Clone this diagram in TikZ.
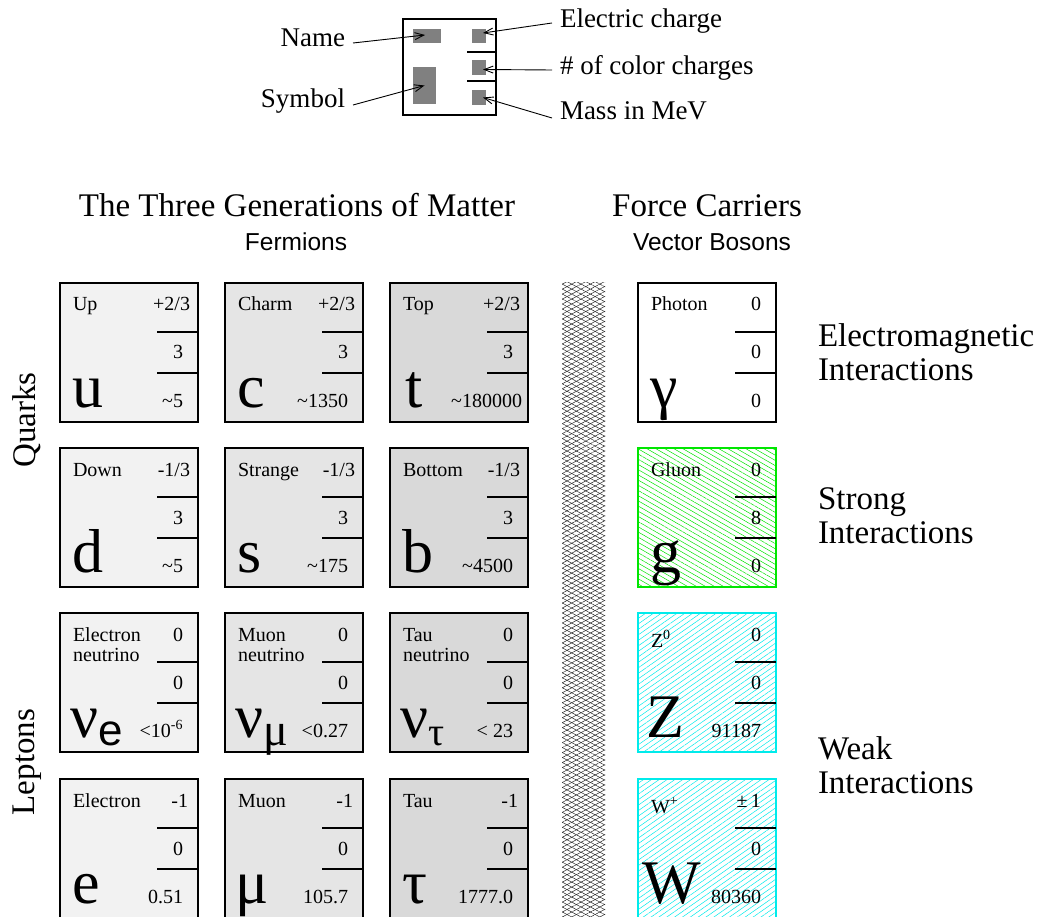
\documentclass[tikz,border=0pt]{standalone}
\usepackage{fontspec}
\setmainfont{Liberation Serif}
\setsansfont{Liberation Sans}
\usetikzlibrary{patterns.meta,arrows.meta}

\definecolor{cA}{gray}{0.95}
\definecolor{cB}{gray}{0.90}
\definecolor{cC}{gray}{0.85}
\definecolor{glu}{RGB}{0,230,0}
\definecolor{wk}{RGB}{0,235,235}
\definecolor{legray}{gray}{0.5}

\tikzset{
  sep/.style={inner sep=0pt, outer sep=0pt},
  cardbox/.style={sep, draw=black, line width=2.6pt, minimum width=138pt, minimum height=139pt, anchor=north west},
  fillA/.style={cardbox, fill=cA},
  fillB/.style={cardbox, fill=cB},
  fillC/.style={cardbox, fill=cC},
  photonbox/.style={cardbox, fill=white},
  gluonbox/.style={cardbox, draw=glu, fill=white, postaction={pattern={Lines[angle=-30,distance=4.5pt,line width=0.5pt]}, pattern color=glu}},
  weakbox/.style={cardbox, draw=wk, fill=white, postaction={pattern={Lines[angle=35,distance=4.5pt,line width=0.5pt]}, pattern color=wk}},
  small/.style={sep, font=\fontsize{20}{20}\selectfont},
  big/.style={sep, font=\fontsize{62}{62}\selectfont},
  title/.style={sep, font=\fontsize{33}{34}\selectfont},
  subtitle/.style={sep, font=\sffamily\fontsize{24.5}{26}\selectfont},
  legend/.style={sep, font=\fontsize{27}{28}\selectfont},
  divline/.style={line width=2.6pt},
  arr/.style={-{Straight Barb[length=9pt,width=7pt]}, line width=0.9pt},
  graybox/.style={sep, fill=legray, draw=none, anchor=north west},
  meshline/.style={pattern color=black!85},
}

\newcommand\partsub[2]{\raisebox{-8pt}{#1#2}}

\newcommand\card[9]{%
  \node[#4] (#1) at (#2,#3) {};
  \draw[divline] ([xshift=97pt,yshift=-49pt]#1.north west) -- ([yshift=-49pt]#1.north east);
  \draw[divline] ([xshift=97pt,yshift=-90pt]#1.north west) -- ([yshift=-90pt]#1.north east);
  \node[small, anchor=base west] (#1-n) at ([xshift=13pt,yshift=-28pt]#1.north west) {#5};
  \node[small, anchor=base east] (#1-q) at ([xshift=123pt,yshift=-28pt]#1.north west) {#6};
  \node[small, anchor=base east] (#1-c) at ([xshift=123pt,yshift=-76pt]#1.north west) {#7};
  \node[small, anchor=base east] (#1-m) at ([xshift=123pt,yshift=-124pt]#1.north west) {#8};
  \node[big, anchor=base west] (#1-s) at ([xshift=12pt,yshift=-124pt]#1.north west) {#9};
}

\begin{document}
\begin{tikzpicture}[x=1pt,y=-1pt]
\useasboundingbox (0,0) rectangle (1039,917);

% ---------- legend ----------
\node[sep, draw, line width=2.6pt, minimum width=93pt, minimum height=96pt, anchor=north west] (leg) at (403,19) {};
\node[graybox, minimum width=28pt, minimum height=14pt] (gname) at (413,29) {};
\node[graybox, minimum width=14pt, minimum height=14pt] (gq) at (472,29) {};
\node[graybox, minimum width=14pt, minimum height=15pt] (gc) at (472,60) {};
\node[graybox, minimum width=14pt, minimum height=15pt] (gm) at (472,90) {};
\node[graybox, minimum width=23pt, minimum height=37pt] (gs) at (413,67) {};
\draw[divline] (467,52) -- (496,52);
\draw[divline] (467,81) -- (496,81);

\node[legend, anchor=base east] (lname) at (345,47) {Name};
\node[legend, anchor=base east] (lsym) at (345,108) {Symbol};
\node[legend, anchor=base west] (lq) at (560,28) {Electric charge};
\node[legend, anchor=base west] (lc) at (560,75) {\# of color charges};
\node[legend, anchor=base west] (lm) at (560,120) {Mass in MeV};

\coordinate (sname) at (353,43);
\coordinate (ssym) at (353,105);
\coordinate (sq) at (552,23);
\coordinate (sc) at (552,70);
\coordinate (sm) at (552,118);
\draw[arr] (sname) -- ([xshift=-2pt,yshift=1pt]gname.center);
\draw[arr] (ssym) -- (gs.center);
\draw[arr] (sq) -- ([xshift=4pt,yshift=3pt]gq.center);
\draw[arr] (sc) -- ([xshift=4pt,yshift=-2pt]gc.center);
\draw[arr] (sm) -- ([xshift=4pt]gm.center);

% ---------- headings ----------
\node[title, anchor=base] (gen) at (297,217) {The Three Generations of Matter};
\node[subtitle, anchor=base] (ferm) at (296,251) {Fermions};
\node[title, anchor=base] (fc) at (707,217) {Force Carriers};
\node[subtitle, anchor=base] (vb) at (712,251) {Vector Bosons};

\node[title, rotate=90] (quarks) at (27,420) {Quarks};
\node[title, rotate=90] (leptons) at (27,762) {Leptons};

\node[title, align=left, anchor=west] (em) at (818,352) {Electromagnetic\\Interactions};
\node[title, align=left, anchor=west] (strong) at (818,516) {Strong\\Interactions};
\node[title, align=left, anchor=west] (weak) at (818,765) {Weak\\Interactions};

% ---------- separator ----------
\fill[meshline, pattern={Lines[angle=28,distance=4.4pt,line width=0.5pt]}] (562,283) rectangle (605,917);
\fill[meshline, pattern={Lines[angle=-28,distance=4.4pt,line width=0.5pt]}] (562,283) rectangle (605,917);

% ---------- fermions ----------
\card{up}{60}{283}{fillA}{Up}{+2/3\kern-7pt}{3}{\textasciitilde5}{u}
\card{ch}{225}{283}{fillB}{Charm}{+2/3\kern-7pt}{3}{\textasciitilde1350}{c}
\card{tp}{390}{283}{fillC}{Top}{+2/3\kern-7pt}{3}{\textasciitilde180000\kern-9pt}{\kern3pt t}
\card{dn}{60}{448}{fillA}{Down}{-1/3\kern-7pt}{3}{\textasciitilde5}{d}
\card{st}{225}{448}{fillB}{Strange}{-1/3\kern-7pt}{3}{\textasciitilde175}{s}
\card{bt}{390}{448}{fillC}{Bottom}{-1/3\kern-7pt}{3}{\textasciitilde4500}{b}
\card{ne}{60}{613}{fillA}{Electron}{0}{0}{<10\textsuperscript{-6}}{\kern-2pt ν\partsub{\sffamily\fontsize{44}{44}\selectfont}{e}}
\card{nm}{225}{613}{fillB}{Muon}{0}{0}{<0.27}{\kern-2pt ν\partsub{\fontsize{46}{46}\selectfont}{μ}}
\card{nt}{390}{613}{fillC}{Tau}{0}{0}{< 23}{\kern-2pt ν\partsub{\fontsize{40}{40}\selectfont}{τ}}
\node[small, anchor=base west] (ne-n2) at ([xshift=13pt,yshift=-48pt]ne.north west) {neutrino};
\node[small, anchor=base west] (nm-n2) at ([xshift=13pt,yshift=-48pt]nm.north west) {neutrino};
\node[small, anchor=base west] (nt-n2) at ([xshift=13pt,yshift=-48pt]nt.north west) {neutrino};
\card{el}{60}{779}{fillA}{Electron}{-1\kern-5pt}{0}{0.51}{e}
\card{mu}{225}{779}{fillB}{Muon}{-1\kern-5pt}{0}{105.7}{\kern-2pt μ}
\card{ta}{390}{779}{fillC}{Tau}{-1\kern-5pt}{0}{1777.0}{τ}

% ---------- bosons ----------
\card{ph}{638}{283}{photonbox}{Photon}{0}{0}{0}{γ}
\card{gl}{638}{448}{gluonbox}{Gluon}{0}{8}{0}{g}
\card{zb}{638}{613}{weakbox}{\raisebox{-6pt}{Z\textsuperscript{0}}}{0}{0}{91187}{\kern-4pt Z}
\card{wb}{638}{779}{weakbox}{\raisebox{-6pt}{W\textsuperscript{+}}}{\textpm\,1}{0}{80360}{\kern-8pt W}
\end{tikzpicture}
\end{document}
